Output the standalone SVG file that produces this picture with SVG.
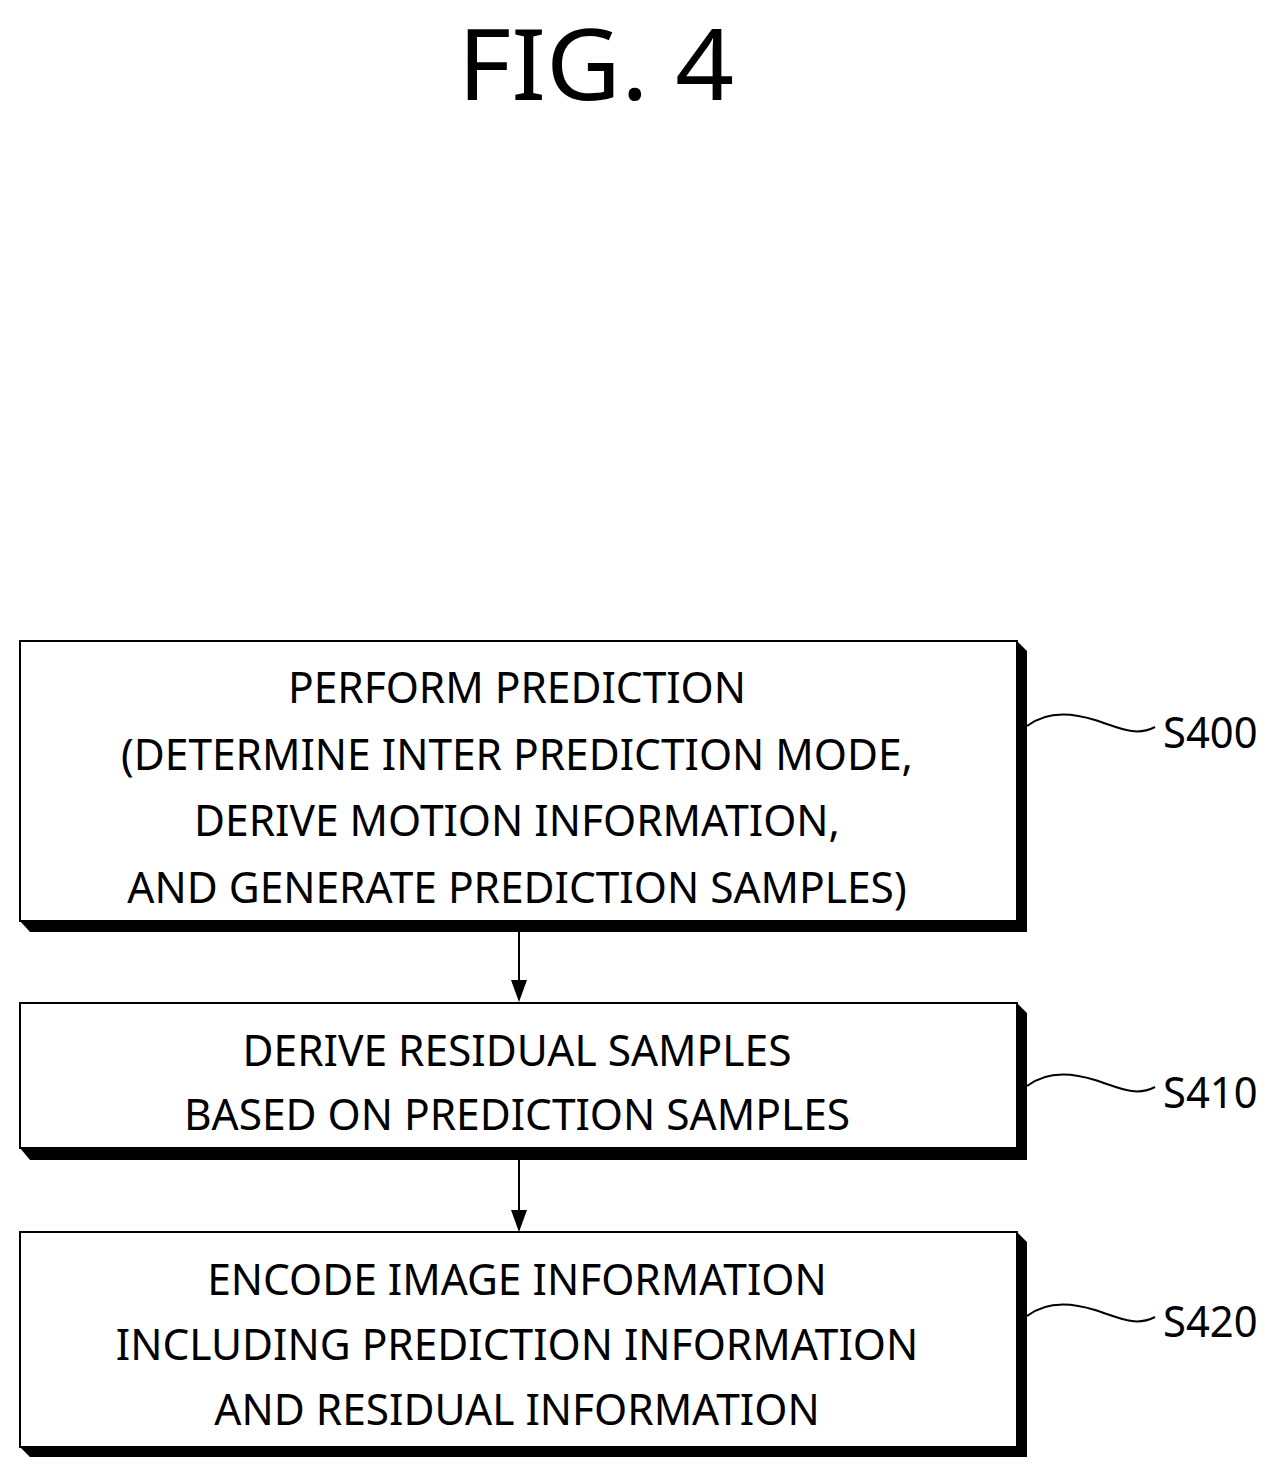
<svg xmlns="http://www.w3.org/2000/svg" width="1277" height="1476" viewBox="0 0 1277 1476">
<style>
.box{fill:#fff;stroke:#000;stroke-width:2}
.sh{fill:#000}
.t{font-family:"Noto Sans","Noto Sans CJK KR",sans-serif;font-size:44px;text-anchor:middle;fill:#000}
.lb{font-family:"Noto Sans","Noto Sans CJK KR",sans-serif;font-size:44px;fill:#000}
.c{fill:none;stroke:#000;stroke-width:2}
</style>
<rect width="1277" height="1476" fill="#fff"/>
<text transform="translate(596 100) scale(1.05 1)" font-family="Noto Sans,sans-serif" font-size="98" text-anchor="middle">FIG. 4</text>
<g id="s400">
<polygon class="sh" points="1017,641 1027,651 1027,932 30,932 20,921 1017,921"/>
<rect class="box" x="20" y="641" width="997" height="280"/>
<text class="t" transform="translate(517 0) scale(0.965 1)"><tspan x="0" y="703">PERFORM PREDICTION</tspan><tspan x="0" y="770">(DETERMINE INTER PREDICTION MODE,</tspan><tspan x="0" y="836">DERIVE MOTION INFORMATION,</tspan><tspan x="0" y="903">AND GENERATE PREDICTION SAMPLES)</tspan></text>
<text class="lb" transform="translate(1163 748) scale(0.95 1)">S400</text>
</g>
<g id="s410">
<polygon class="sh" points="1017,1003 1027,1013 1027,1160 30,1160 20,1148 1017,1148"/>
<rect class="box" x="20" y="1003" width="997" height="145"/>
<text class="t" transform="translate(517 0) scale(0.965 1)"><tspan x="0" y="1066">DERIVE RESIDUAL SAMPLES</tspan><tspan x="0" y="1130">BASED ON PREDICTION SAMPLES</tspan></text>
<text class="lb" transform="translate(1163 1108) scale(0.95 1)">S410</text>
</g>
<g id="s420">
<polygon class="sh" points="1017,1232 1027,1242 1027,1457 30,1457 20,1447 1017,1447"/>
<rect class="box" x="20" y="1232" width="997" height="215"/>
<text class="t" transform="translate(517 0) scale(0.965 1)"><tspan x="0" y="1295">ENCODE IMAGE INFORMATION</tspan><tspan x="0" y="1360">INCLUDING PREDICTION INFORMATION</tspan><tspan x="0" y="1425">AND RESIDUAL INFORMATION</tspan></text>
<text class="lb" transform="translate(1163 1337) scale(0.95 1)">S420</text>
</g>
<g id="connectors">
<line class="c" x1="519" y1="932" x2="519" y2="980"/><path d="M511,980 L527,980 L519,1002Z"/>
<line class="c" x1="519" y1="1160" x2="519" y2="1210"/><path d="M511,1210 L527,1210 L519,1232Z"/>
<path class="c" d="M1027,726 C1045,712 1070,712 1095,720 S1135,737 1155,727"/>
<path class="c" d="M1027,1086 C1045,1072 1070,1072 1095,1080 S1135,1097 1155,1087"/>
<path class="c" d="M1027,1316 C1045,1302 1070,1302 1095,1310 S1135,1327 1155,1317"/>
</g>
</svg>
